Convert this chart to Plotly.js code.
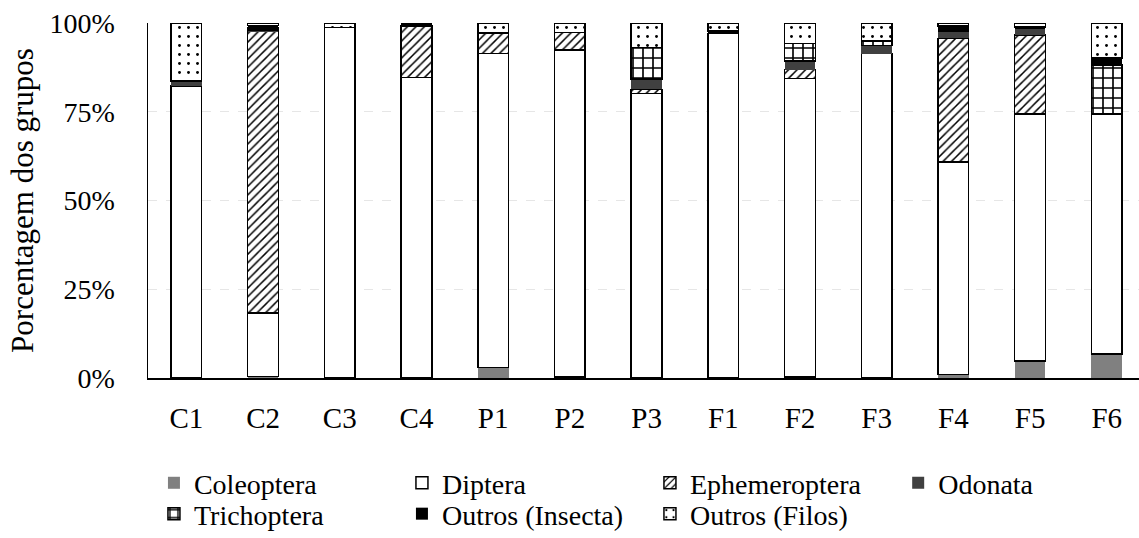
<!DOCTYPE html>
<html>
<head>
<meta charset="utf-8">
<script src="https://cdn.plot.ly/plotly-3.0.1.min.js"></script>
<style>
  html, body { margin: 0; padding: 0; background: #ffffff; }
  #chart { width: 1139px; height: 538px; }
</style>
</head>
<body>
<div id="chart"></div>
<script>
// Sampling sites
const sites = ['C1', 'C2', 'C3', 'C4', 'P1', 'P2', 'P3', 'F1', 'F2', 'F3', 'F4', 'F5', 'F6'];

// Relative abundance (%) of each group per site
const coleoptera    = [0, 0.4, 0, 0, 2.9, 0.3, 0.2, 0.2, 0.3, 0, 1.0, 4.8, 6.8];
const diptera       = [82.3, 17.9, 98.8, 84.6, 88.5, 92.1, 80.0, 96.9, 84.1, 91.4, 59.9, 69.6, 67.6];
const ephemeroptera = [0, 79.3, 0, 14.6, 5.8, 4.9, 1.1, 0, 2.5, 0, 34.8, 22.2, 0];
const odonata       = [1.4, 0.5, 0, 0, 0, 0, 2.9, 0, 2.4, 2.3, 2.1, 1.8, 0];
const trichoptera   = [0, 0.5, 0, 0, 0, 0, 8.9, 0, 4.9, 1.2, 0, 0, 13.8];
const outrosInsecta = [0, 0.7, 0, 0.8, 0, 0, 0, 0.7, 0, 0, 1.4, 0.5, 1.9];
const outrosFilos   = [16.3, 0.7, 1.2, 0, 2.8, 2.7, 6.9, 2.2, 5.8, 5.1, 0.8, 1.1, 9.9];

const yTicks = [0, 25, 50, 75, 100];
const yTickText = ['0%', '25%', '50%', '75%', '100%'];

const FONT = 'Liberation Serif, Times New Roman, serif';
const OUTLINE = { color: '#000000', width: 1.5 };
const NO_LINE = { color: 'rgba(0,0,0,0)', width: 0 };

function bar(name, values, marker, legend) {
  return {
    type: 'bar', name: name, x: sites, y: values,
    width: 0.4, marker: marker, legend: legend,
    hoverinfo: 'name+y'
  };
}

const traces = [
  bar('Coleoptera', coleoptera, { color: '#808080', line: NO_LINE }, 'legend'),
  bar('Diptera', diptera, { color: '#ffffff', line: OUTLINE }, 'legend'),
  bar('Ephemeroptera', ephemeroptera, {
    color: '#ffffff', line: OUTLINE,
    pattern: { shape: '/', fgcolor: '#000000', bgcolor: '#ffffff', size: 6, solidity: 0.25 }
  }, 'legend'),
  bar('Odonata', odonata, { color: '#404040', line: NO_LINE }, 'legend3'),
  bar('Trichoptera', trichoptera, {
    color: '#ffffff', line: OUTLINE,
    pattern: { shape: '+', fgcolor: '#000000', bgcolor: '#ffffff', size: 10, solidity: 0.3 }
  }, 'legend2'),
  bar('Outros (Insecta)', outrosInsecta, { color: '#000000', line: NO_LINE }, 'legend2'),
  bar('Outros (Filos)', outrosFilos, {
    color: '#ffffff', line: OUTLINE,
    pattern: { shape: '.', fgcolor: '#000000', bgcolor: '#ffffff', size: 9, solidity: 0.08 }
  }, 'legend2')
];

const legendCommon = {
  orientation: 'h',
  x: 0.006, xanchor: 'left',
  yanchor: 'middle',
  entrywidth: 203, entrywidthmode: 'pixels',
  font: { family: FONT, size: 28, color: '#000000' },
  bgcolor: 'rgba(0,0,0,0)',
  traceorder: 'normal',
  itemclick: false, itemdoubleclick: false
};

const ROW1 = -0.296;
const ROW2 = -0.383;

const layout = {
  width: 1139, height: 538,
  margin: { l: 148, r: 0, t: 23, b: 160, autoexpand: false },
  paper_bgcolor: '#ffffff', plot_bgcolor: '#ffffff',
  barmode: 'stack',
  font: { family: FONT, size: 28, color: '#000000' },
  xaxis: {
    type: 'category',
    range: [-0.5, 12.42],
    showline: true, linecolor: '#000000', linewidth: 1.5,
    showgrid: false, ticks: '',
    ticklabelstandoff: 14,
    tickfont: { family: FONT, size: 29, color: '#000000' },
    fixedrange: true
  },
  yaxis: {
    range: [0, 100],
    tickvals: yTicks, ticktext: yTickText,
    showline: true, linecolor: '#000000', linewidth: 1.5,
    showgrid: true, gridcolor: '#e6e6e6', gridwidth: 1, griddash: 'dash',
    zeroline: false, ticks: '',
    ticklabelstandoff: 26,
    tickfont: { family: FONT, size: 28, color: '#000000' },
    title: { text: 'Porcentagem dos grupos', font: { family: FONT, size: 31, color: '#000000' }, standoff: 6 },
    fixedrange: true
  },
  legend: Object.assign({}, legendCommon, { y: ROW1 }),
  legend3: Object.assign({}, legendCommon, { y: ROW1, x: 0.757, entrywidth: 120 }),
  legend2: Object.assign({}, legendCommon, { y: ROW2 }),
  showlegend: true
};

Plotly.newPlot('chart', traces, layout, { displayModeBar: false, staticPlot: true });
</script>
</body>
</html>
